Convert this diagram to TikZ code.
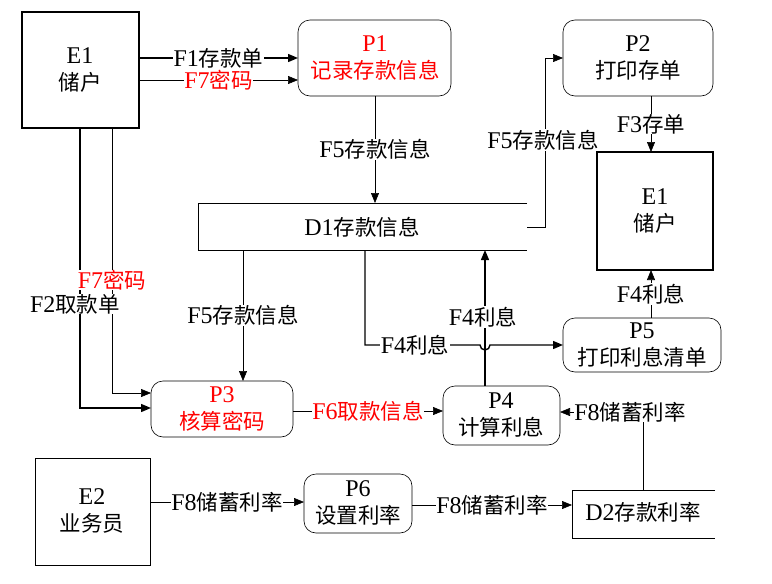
\documentclass[tikz,border=0pt]{standalone}
\usepackage{fontspec}
\setmainfont{Liberation Serif}
\newfontfamily\cjk{Noto Sans CJK SC}
\newcommand{\zh}[1]{{\cjk\fontsize{21.5}{25}\selectfont #1}}
\usetikzlibrary{arrows.meta}
\begin{document}
\begin{tikzpicture}[x=1pt,y=-1pt,font=\fontsize{24}{27}\selectfont,
  ent/.style={draw,line width=1.6pt},
  ent2/.style={draw,line width=0.6pt},
  proc/.style={draw,rounded corners=12pt,line width=0.6pt},
  fl/.style={-{Triangle[length=10pt,width=8pt]},line width=0.6pt},
  flb/.style={-{Triangle[length=10pt,width=8pt]},line width=1.4pt},
  lab/.style={fill=white,inner sep=0.5pt},
  red/.style={text=red}]
\useasboundingbox (0,0) rectangle (772,584);
% entities
\draw[ent] (22,12) rectangle (139,128);
\node (e1) at (80,70) [align=center] {E1\\\zh{储户}};
\coordinate (e1r1) at (139,58); \coordinate (e1r2) at (139,80);
\draw[ent] (597,152) rectangle (713,270);
\node (e1b) at (655,211) [align=center] {E1\\\zh{储户}};
\draw[ent2] (35,458) rectangle (150,565);
\node (e2) at (92,511) [align=center] {E2\\\zh{业务员}};
% processes
\draw[proc] (298,20) rectangle (451,96);
\node[red] (p1) at (375,58) [align=center] {P1\\\zh{记录存款信息}};
\draw[proc] (563,20) rectangle (713,96);
\node (p2) at (638,58) [align=center] {P2\\\zh{打印存单}};
\draw[proc] (563,318) rectangle (721,372);
\node (p5) at (642,345) [align=center] {P5\\\zh{打印利息清单}};
\draw[proc] (443,386) rectangle (560,445);
\node (p4) at (501,415) [align=center] {P4\\\zh{计算利息}};
\draw[proc] (151,381) rectangle (293,437);
\node[red] (p3) at (222,409) [align=center] {P3\\\zh{核算密码}};
\draw[proc] (304,474) rectangle (412,533);
\node (p6) at (358,503) [align=center] {P6\\\zh{设置利率}};
% stores
\draw[line width=0.6pt] (527,203) -- (198,203) -- (198,250) -- (527,250);
\node (d1) at (362,227) {D1\zh{存款信息}};
\draw[line width=0.6pt] (715,490) -- (572,490) -- (572,538) -- (715,538);
\node (d2) at (643,512) {D2\zh{存款利率}};
% flows
\draw[flb] (e1r1) -- (298,58) node[lab,midway] {F1\zh{存款单}};
\draw[fl] (e1r2) -- (298,80) node[lab,midway,red] {F7\zh{密码}};
\draw[fl] (375,96) -- (375,203) node[lab,pos=0.5] {F5\zh{存款信息}};
\draw[fl] (527,227) -- (545,227) -- (545,58) -- (563,58);
\node[lab] (f5b) at (543,140) {F5\zh{存款信息}};
\draw[fl] (651,96) -- (651,152) node[lab,midway] {F3\zh{存单}};
\draw[fl] (651,318) -- (651,270) node[lab,midway] {F4\zh{利息}};
\draw[flb] (485,386) -- (485,250);
\node[lab] (f4a) at (483,317) {F4\zh{利息}};
\draw[flb] (365,250) -- (365,345) -- (480,345) arc(180:0:5) -- (563,345);
\node[lab] (f4b) at (415,345) {F4\zh{利息}};
\draw[fl] (243,250) -- (243,381) node[lab,midway] {F5\zh{存款信息}};
\draw[flb] (80,128) -- (80,408) -- (151,408);
\draw[fl] (112,128) -- (112,393) -- (151,393);
\node[lab,red] (f7b) at (112,280) {F7\zh{密码}};
\node[lab] (f2) at (75,304) {F2\zh{取款单}};
\draw[fl] (293,411) -- (443,411) node[lab,midway,red] {F6\zh{取款信息}};
\draw[fl] (643,490) -- (643,412) -- (560,412);
\node[lab] (f8a) at (630,412) {F8\zh{储蓄利率}};
\draw[fl] (150,502) -- (304,502) node[lab,midway] {F8\zh{储蓄利率}};
\draw[fl] (412,505) -- (572,505) node[lab,midway] {F8\zh{储蓄利率}};
\end{tikzpicture}
\end{document}
